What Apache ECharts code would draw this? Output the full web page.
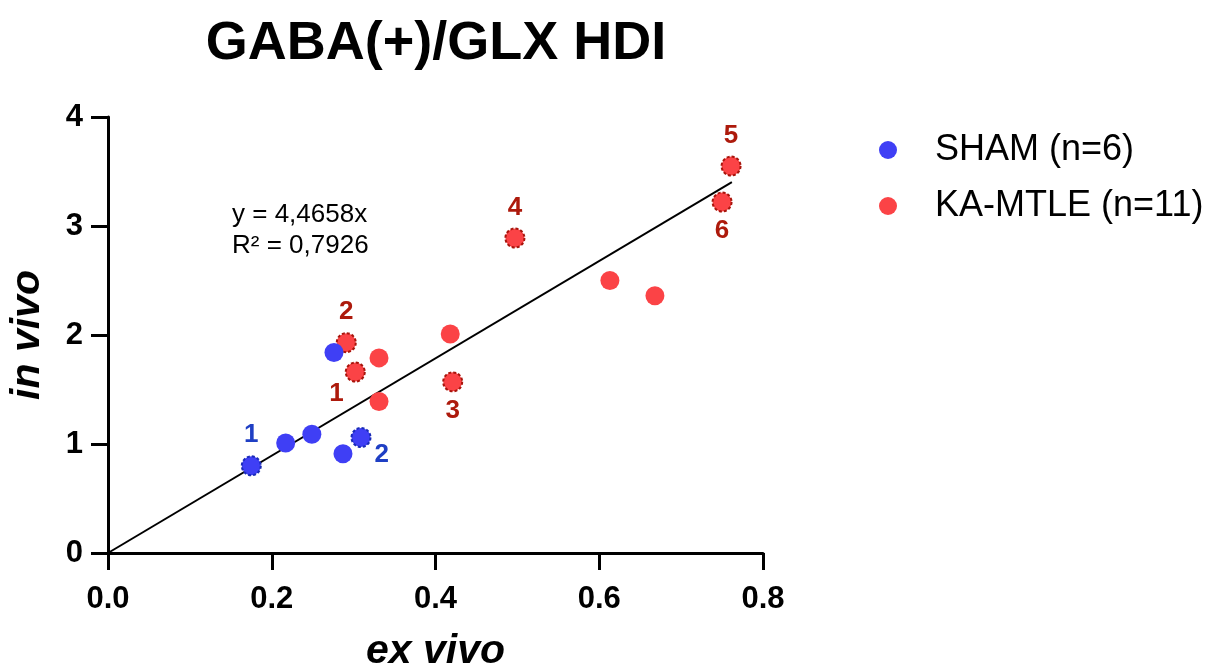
<!DOCTYPE html>
<html><head><meta charset="utf-8">
<script src="https://cdn.jsdelivr.net/npm/echarts@6/dist/echarts.min.js"></script>
<style>html,body{margin:0;padding:0;background:#fff}#c{width:1209px;height:668px}</style>
</head><body><div id="c"></div>
<script>
const xTicks = [0, 0.2, 0.4, 0.6, 0.8];
const yTicks = [0, 1, 2, 3, 4];
const shamX = [0.175, 0.217, 0.249, 0.287, 0.309, 0.276];
const shamY = [0.80, 1.01, 1.09, 0.91, 1.06, 1.84];
const shamLabels = ['1', '', '', '', '2', ''];
const shamLabelPos = ['top', '', '', '', 'bottomRight', ''];
const kaX = [0.291, 0.302, 0.331, 0.331, 0.418, 0.421, 0.497, 0.613, 0.668, 0.750, 0.761];
const kaY = [1.93, 1.66, 1.79, 1.39, 2.01, 1.57, 2.89, 2.50, 2.36, 3.22, 3.55];
const kaLabels = ['2', '1', '', '', '', '3', '4', '', '', '6', '5'];
const kaLabelPos = ['top', 'bottomLeft', '', '', '', 'bottom', 'top', '', '', 'bottom', 'top'];
const slope = 4.4658;
const fitXEnd = 0.762;
const seriesNames = ['SHAM (n=6)', 'KA-MTLE (n=11)'];

function mkData(xs, ys, labels, pos, dark, labelColor) {
  return xs.map((x, i) => {
    const d = { value: [x, ys[i]] };
    if (labels[i]) {
      d.itemStyle = { borderType: [3, 2], borderColor: dark, borderWidth: 2 };
      let p = pos[i], off = [0, 0], dist = 5;
      if (p === 'top') dist = 7;
      if (p === 'bottomRight') { p = 'right'; off = [-2, 17]; }
      if (p === 'bottomLeft') { p = 'left'; off = [4, 22]; }
      d.label = { show: true, formatter: labels[i], position: p, offset: off, distance: dist,
        color: labelColor, fontSize: 26, fontWeight: 'bold', fontFamily: 'Liberation Sans' };
    }
    return d;
  });
}

const chart = echarts.init(document.getElementById('c'));
const axisCommon = {
  axisLine: { show: true, onZero: false, lineStyle: { color: '#000', width: 3 } },
  axisTick: { show: true, length: 17, lineStyle: { color: '#000', width: 3 } },
  splitLine: { show: false },
  axisLabel: { color: '#000', fontSize: 31, fontWeight: 'bold', fontFamily: 'Liberation Sans' },
  nameTextStyle: { color: '#000', fontSize: 41, fontWeight: 'bold', fontStyle: 'italic', fontFamily: 'Liberation Sans' }
};
chart.setOption({
  animation: false,
  title: { text: 'GABA(+)/GLX HDI', left: 431, top: 12, textAlign: 'center',
    textStyle: { fontSize: 54, fontWeight: 'bold', color: '#000', fontFamily: 'Liberation Sans' } },
  grid: { left: 108, top: 117, right: 446, bottom: 115, containLabel: false, outerBoundsMode: 'none' },
  xAxis: Object.assign({}, axisCommon, { type: 'value', min: xTicks[0], max: xTicks[xTicks.length - 1], interval: 0.2,
    name: 'ex vivo', nameLocation: 'middle', nameGap: 78,
    axisLabel: Object.assign({}, axisCommon.axisLabel, { margin: 31, formatter: v => v.toFixed(1) }) }),
  yAxis: Object.assign({}, axisCommon, { type: 'value', min: yTicks[0], max: yTicks[yTicks.length - 1], interval: 1,
    name: 'in vivo', nameLocation: 'middle', nameGap: 60,
    axisLabel: Object.assign({}, axisCommon.axisLabel, { margin: 25 }) }),
  legend: { orient: 'vertical', left: 874, top: 127, itemGap: 20, itemWidth: 18, itemHeight: 18,
    icon: 'circle', data: seriesNames,
    textStyle: { fontSize: 36, color: '#000', fontFamily: 'Liberation Sans', padding: [0, 0, 0, 33] } },
  graphic: [{ type: 'text', left: 232, top: 199,
    style: { text: 'y = 4,4658x\nR² = 0,7926', fontSize: 26, lineHeight: 31, fill: '#000', fontFamily: 'Liberation Sans' } }],
  series: [
    { type: 'line', data: [[0, 0], [fitXEnd, slope * fitXEnd]], symbol: 'none', silent: true,
      lineStyle: { color: '#000', width: 2 }, z: 1 },
    { name: seriesNames[0], type: 'scatter', symbolSize: 19, z: 3,
      itemStyle: { color: '#3f3ff5', opacity: 1 },
      data: mkData(shamX, shamY, shamLabels, shamLabelPos, '#1a2bb8', '#1f3fc4') },
    { name: seriesNames[1], type: 'scatter', symbolSize: 19, z: 2,
      itemStyle: { color: '#fb4346', opacity: 1 },
      data: mkData(kaX, kaY, kaLabels, kaLabelPos, '#a8150c', '#ad1a0c') }
  ]
});
</script></body></html>
